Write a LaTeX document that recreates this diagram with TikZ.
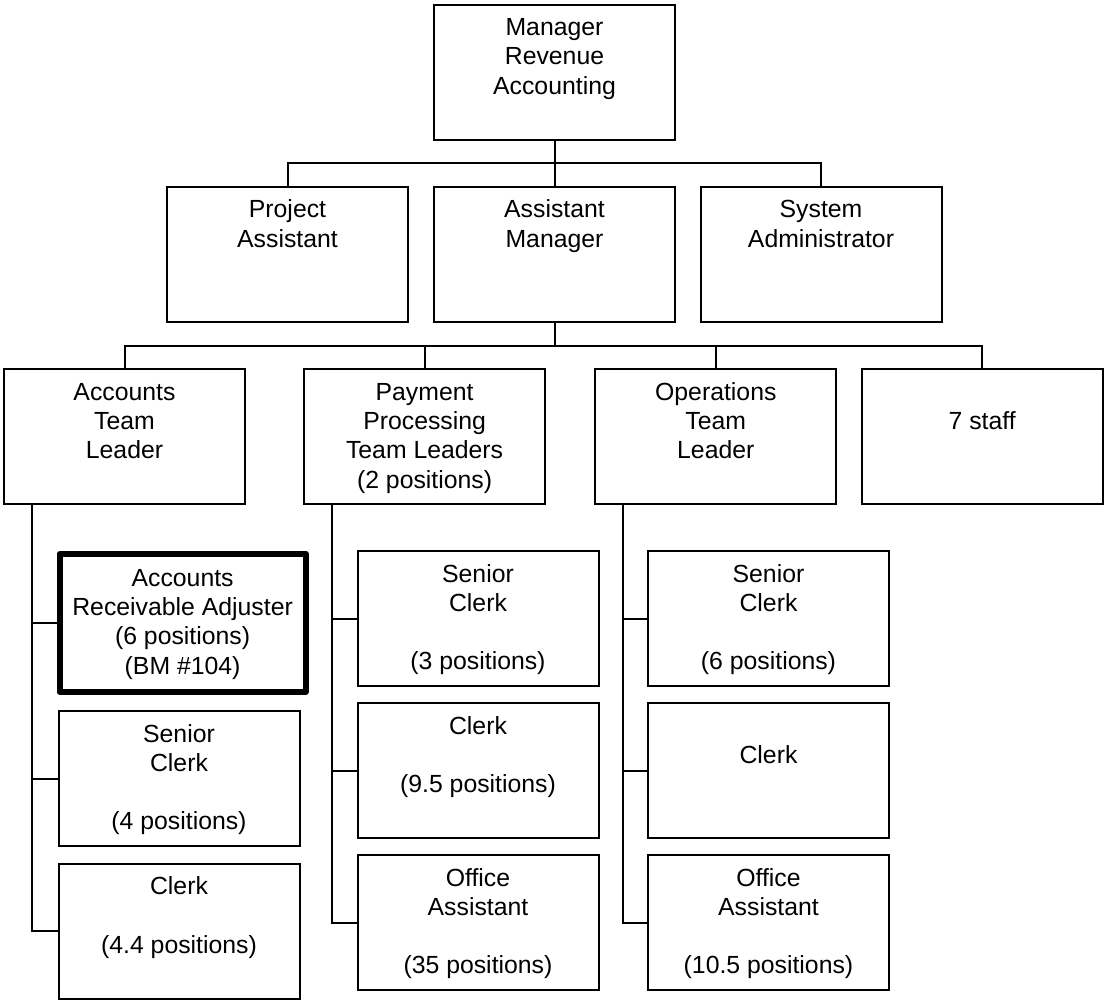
\documentclass[tikz,border=0pt]{standalone}
\usepackage{fontspec}
\setmainfont{Liberation Sans}
\usepackage{tikz}

\newcommand{\orgfont}{\fontsize{12.4pt}{14.65pt}\selectfont}
\newcommand{\jobtext}[1]{\parbox[c][67.5pt][t]{120.5pt}{\orgfont\centering\rule{0pt}{15.5pt}#1}}

\tikzset{
	jobbox/.style={draw, line width=1pt, inner sep=0pt},
	keybox/.style={jobbox, line width=3pt, line join=round, minimum width=123pt, minimum height=69pt},
	link/.style={line width=1pt}
}

\begin{document}
\begin{tikzpicture}[x=0.5pt,y=-0.5pt]
	\useasboundingbox (0,0) rectangle (1104,1000);
	
	% top of the chart
	\node[jobbox] (mgr) at (554.5,72.2) {\jobtext{Manager\\Revenue\\Accounting}};
	
	% second row
	\node[jobbox] (proj) at (287.5,254.5) {\jobtext{Project\\Assistant}};
	\node[jobbox] (asst) at (554.5,254.5) {\jobtext{Assistant\\Manager}};
	\node[jobbox] (sysad) at (821,254.5) {\jobtext{System\\Administrator}};
	
	% team leaders
	\node[jobbox] (acct) at (124.5,436.8) {\jobtext{Accounts\\Team\\Leader}};
	\node[jobbox] (pay) at (424.6,436.8) {\jobtext{Payment\\Processing\\Team Leaders\\(2 positions)}};
	\node[jobbox] (ops) at (715.8,436.8) {\jobtext{Operations\\Team\\Leader}};
	\node[jobbox] (staff) at (982.2,436.8) {\jobtext{\mbox{}\\7 staff}};
	
	% accounts team
	\node[keybox] (ara) at (182.6,622.8) {\jobtext{Accounts\\Receivable Adjuster\\(6 positions)\\(BM \#104)}};
	\node[jobbox] (asc) at (179,778.5) {\jobtext{Senior\\Clerk\\\mbox{}\\(4 positions)}};
	\node[jobbox] (acl) at (179,931) {\jobtext{Clerk\\\mbox{}\\(4.4 positions)}};
	
	% payment processing team
	\node[jobbox] (psc) at (478,618.5) {\jobtext{Senior\\Clerk\\\mbox{}\\(3 positions)}};
	\node[jobbox] (pcl) at (478,770.5) {\jobtext{Clerk\\\mbox{}\\(9.5 positions)}};
	\node[jobbox] (poa) at (478,922.5) {\jobtext{Office\\Assistant\\\mbox{}\\(35 positions)}};
	
	% operations team
	\node[jobbox] (osc) at (768.5,618.5) {\jobtext{Senior\\Clerk\\\mbox{}\\(6 positions)}};
	\node[jobbox] (ocl) at (768.5,770.5) {\jobtext{\mbox{}\\Clerk}};
	\node[jobbox] (ooa) at (768.5,922.5) {\jobtext{Office\\Assistant\\\mbox{}\\(10.5 positions)}};
	
	% connectors
	\coordinate (bus1) at (554.5,163.3);
	\coordinate (bus2) at (554.5,345.7);
	\draw[link] (mgr.south) -- (asst.north);
	\draw[link] (proj.north) |- (bus1) -| (sysad.north);
	\draw[link] (asst.south) -- (bus2);
	\draw[link] (acct.north) |- (bus2) -| (staff.north);
	\draw[link] (pay.north) |- (bus2);
	\draw[link] (ops.north) |- (bus2);
	
	\foreach \kid in {ara,asc,acl}
		\draw[link] ([xshift=14.6pt]acct.south west) |- (\kid.west);
	\foreach \kid in {psc,pcl,poa}
		\draw[link] ([xshift=14.3pt]pay.south west) |- (\kid.west);
	\foreach \kid in {osc,ocl,ooa}
		\draw[link] ([xshift=14.3pt]ops.south west) |- (\kid.west);
\end{tikzpicture}
\end{document}
